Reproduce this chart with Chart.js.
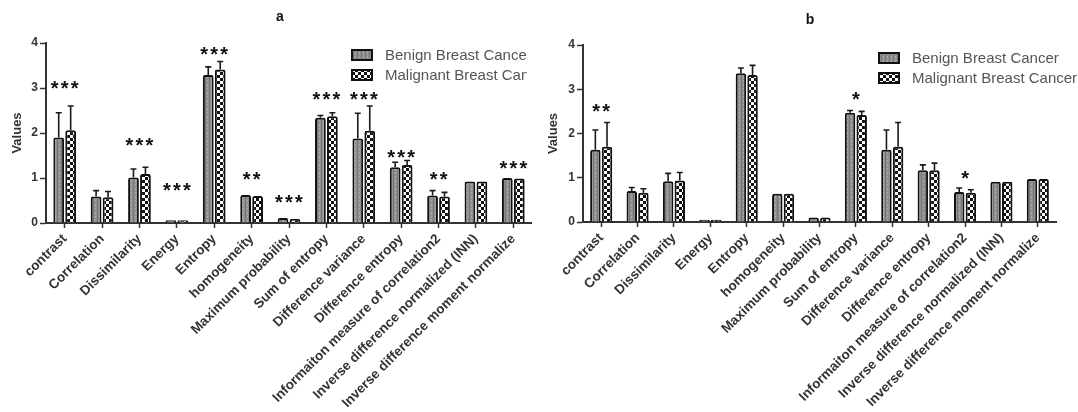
<!DOCTYPE html>
<html lang="en">
<head>
    <meta charset="UTF-8" />
    <title>Texture features - benign vs malignant</title>
    <script src="https://cdn.jsdelivr.net/npm/chart.js"></script>
    <style>
        body {
            margin: 0;
            background: #fff;
            width: 1078px;
            height: 412px;
            overflow: hidden;
            position: relative;
        }
        .panel {
            position: absolute;
            top: 0;
            height: 412px;
        }
        #panelA { left: 0; width: 532px; }
        #panelB { left: 540px; width: 538px; }
    </style>
</head>
<body>
    <div class="panel" id="panelA"><canvas id="chartA"></canvas></div>
    <div class="panel" id="panelB"><canvas id="chartB"></canvas></div>

    <script>
        // Data
        const categories = [
            'contrast', 'Correlation', 'Dissimilarity', 'Energy', 'Entropy',
            'homogeneity', 'Maximum probability', 'Sum of entropy',
            'Difference variance', 'Difference entropy',
            'Informaiton measure of correlation2',
            'Inverse difference normalized (INN)',
            'Inverse difference moment normalize'
        ];
        const seriesNames = ['Benign Breast Cancer', 'Malignant Breast Cancer'];
        const yTicks = [0, 1, 2, 3, 4];

        // panel a
        const benignA      = [1.90, 0.59, 1.01, 0.06, 3.29, 0.62, 0.11, 2.34, 1.88, 1.24, 0.61, 0.92, 1.00];
        const benignErrA   = [2.45, 0.72, 1.20, 0.07, 3.47, 0.64, 0.12, 2.39, 2.44, 1.35, 0.72, 0.93, 1.01];
        const malignantA    = [2.06, 0.57, 1.09, 0.06, 3.41, 0.60, 0.09, 2.37, 2.05, 1.29, 0.59, 0.92, 0.99];
        const malignantErrA = [2.60, 0.70, 1.24, 0.07, 3.59, 0.62, 0.10, 2.45, 2.60, 1.39, 0.68, 0.93, 1.00];
        const starsA  = ['***', '', '***', '***', '***', '**', '***', '***', '***', '***', '**', '', '***'];
        const starYA  = [3.12, 0, 1.84, 0.84, 3.86, 1.09, 0.57, 2.86, 2.86, 1.58, 1.09, 0, 1.34];

        // panel b
        const benignB      = [1.63, 0.70, 0.92, 0.05, 3.36, 0.64, 0.10, 2.47, 1.63, 1.17, 0.68, 0.91, 0.97];
        const benignErrB   = [2.08, 0.78, 1.10, 0.06, 3.48, 0.66, 0.11, 2.52, 2.08, 1.29, 0.77, 0.92, 0.98];
        const malignantB    = [1.70, 0.66, 0.94, 0.05, 3.32, 0.64, 0.10, 2.42, 1.70, 1.17, 0.66, 0.91, 0.97];
        const malignantErrB = [2.25, 0.75, 1.12, 0.06, 3.54, 0.66, 0.11, 2.50, 2.25, 1.33, 0.73, 0.92, 0.98];
        const starsB  = ['**', '', '', '', '', '', '', '*', '', '', '*', '', ''];
        const starYB  = [2.62, 0, 0, 0, 0, 0, 0, 2.89, 0, 0, 1.10, 0, 0];

        const FONT = "'Liberation Sans', Arial, sans-serif";

        // fill patterns: grey texture for benign, black/white checks for malignant
        function makeBenignPattern() {
            const c = document.createElement('canvas');
            c.width = 4; c.height = 4;
            const g = c.getContext('2d');
            g.fillStyle = '#8f8f8f';
            g.fillRect(0, 0, 4, 4);
            g.fillStyle = '#767676';
            g.fillRect(1, 0, 1, 4);
            g.fillStyle = '#a8a8a8';
            g.fillRect(3, 0, 1, 2);
            return g.createPattern(c, 'repeat');
        }
        function makeMalignantPattern() {
            const c = document.createElement('canvas');
            c.width = 6; c.height = 6;
            const g = c.getContext('2d');
            g.fillStyle = '#111';
            g.fillRect(0, 0, 6, 6);
            g.fillStyle = '#fff';
            g.fillRect(1, 0, 3, 3);
            g.fillRect(4, 3, 2, 3);
            g.fillRect(0, 3, 1, 3);
            return g.createPattern(c, 'repeat');
        }
        const benignFill = makeBenignPattern();
        const malignantFill = makeMalignantPattern();

        // error bars (upper only) drawn from the err arrays
        const errorBars = {
            id: 'errorBars',
            afterDatasetsDraw(chart, args, opts) {
                const ctx = chart.ctx;
                const y = chart.scales.y;
                ctx.save();
                ctx.strokeStyle = '#1a1a1a';
                ctx.lineWidth = 1.6;
                chart.data.datasets.forEach((ds, di) => {
                    const meta = chart.getDatasetMeta(di);
                    meta.data.forEach((bar, i) => {
                        const top = y.getPixelForValue(ds.data[i]);
                        const e = y.getPixelForValue(ds.errTop[i]);
                        if (top - e < 1.5) return;
                        ctx.beginPath();
                        ctx.moveTo(bar.x, top);
                        ctx.lineTo(bar.x, e);
                        ctx.moveTo(bar.x - 3, e);
                        ctx.lineTo(bar.x + 3, e);
                        ctx.stroke();
                    });
                });
                ctx.restore();
            }
        };

        // significance stars above each category
        const sigStars = {
            id: 'sigStars',
            afterDatasetsDraw(chart, args, opts) {
                const ctx = chart.ctx;
                const x = chart.scales.x;
                const y = chart.scales.y;
                ctx.save();
                ctx.fillStyle = '#111';
                ctx.font = 'bold 20px ' + FONT;
                ctx.textAlign = 'center';
                ctx.textBaseline = 'alphabetic';
                opts.stars.forEach((s, i) => {
                    if (!s) return;
                    const cx = x.getPixelForValue(i);
                    const cy = y.getPixelForValue(opts.starY[i]);
                    const step = 10;
                    const start = cx - (s.length - 1) * step / 2;
                    for (let k = 0; k < s.length; k++) {
                        ctx.fillText('*', start + k * step, cy + 12);
                    }
                });
                ctx.restore();
            }
        };

        // panel letter + legend
        const panelDecor = {
            id: 'panelDecor',
            afterDraw(chart, args, opts) {
                const ctx = chart.ctx;
                ctx.save();
                ctx.fillStyle = '#111';
                ctx.font = 'bold 14px ' + FONT;
                ctx.textAlign = 'center';
                ctx.textBaseline = 'middle';
                ctx.fillText(opts.letter, opts.letterX, opts.letterY);

                // legend gets cut at the panel edge like in the source figure
                ctx.beginPath();
                ctx.rect(0, 0, opts.clipX, chart.height);
                ctx.clip();

                const fills = [benignFill, malignantFill];
                ctx.font = '15px ' + FONT;
                ctx.textAlign = 'left';
                seriesNames.forEach((name, i) => {
                    const bx = opts.legendX;
                    const by = opts.legendY + i * 20;
                    ctx.fillStyle = fills[i];
                    ctx.fillRect(bx, by - 5, 20, 10);
                    ctx.strokeStyle = '#111';
                    ctx.lineWidth = 2;
                    ctx.strokeRect(bx, by - 5, 20, 10);
                    ctx.fillStyle = '#555';
                    ctx.fillText(name, bx + 33, by + 1);
                });
                ctx.restore();
            }
        };

        function buildChart(id, b, bErr, m, mErr, stars, starY, cfg) {
            return new Chart(document.getElementById(id), {
                type: 'bar',
                data: {
                    labels: categories,
                    datasets: [
                        {
                            label: seriesNames[0],
                            data: b,
                            errTop: bErr,
                            backgroundColor: benignFill,
                            borderColor: '#111',
                            borderWidth: 2,
                            borderRadius: 2,
                            categoryPercentage: 0.64,
                            barPercentage: 0.9
                        },
                        {
                            label: seriesNames[1],
                            data: m,
                            errTop: mErr,
                            backgroundColor: malignantFill,
                            borderColor: '#111',
                            borderWidth: 2,
                            borderRadius: 2,
                            categoryPercentage: 0.64,
                            barPercentage: 0.9
                        }
                    ]
                },
                options: {
                    responsive: true,
                    maintainAspectRatio: false,
                    animation: false,
                    layout: {
                        padding: { top: cfg.top, right: cfg.right, left: 0, bottom: 0 }
                    },
                    plugins: {
                        legend: { display: false },
                        tooltip: { enabled: false },
                        sigStars: { stars: stars, starY: starY },
                        panelDecor: cfg.decor
                    },
                    scales: {
                        x: {
                            offset: true,
                            afterFit(scale) { scale.height = cfg.xHeight; },
                            border: { color: '#333', width: 2 },
                            grid: {
                                offset: false,
                                drawOnChartArea: false,
                                tickLength: 5,
                                tickColor: '#333',
                                tickWidth: 1.5
                            },
                            ticks: {
                                autoSkip: false,
                                minRotation: 45,
                                maxRotation: 45,
                                padding: 3,
                                color: '#333',
                                font: { family: FONT, size: 13.5, weight: 'bold' }
                            }
                        },
                        y: {
                            min: 0,
                            max: 4,
                            afterFit(scale) { scale.width = cfg.yWidth; },
                            afterBuildTicks(scale) {
                                scale.ticks = yTicks.map(v => ({ value: v }));
                            },
                            border: { color: '#333', width: 2 },
                            grid: {
                                drawOnChartArea: false,
                                tickLength: 6,
                                tickColor: '#333',
                                tickWidth: 1.5
                            },
                            ticks: {
                                padding: 2,
                                color: '#333',
                                font: { family: FONT, size: 12, weight: 'bold' }
                            },
                            title: {
                                display: true,
                                text: 'Values',
                                color: '#333',
                                padding: { top: cfg.titlePad, bottom: 0 },
                                font: { family: FONT, size: 13, weight: 'bold' }
                            }
                        }
                    }
                },
                plugins: [errorBars, sigStars, panelDecor]
            });
        }

        buildChart('chartA', benignA, benignErrA, malignantA, malignantErrA, starsA, starYA, {
            top: 43, right: 0, xHeight: 189, yWidth: 46, titlePad: 10,
            decor: { letter: 'a', letterX: 280, letterY: 17, legendX: 352, legendY: 55, clipX: 527 }
        });

        buildChart('chartB', benignB, benignErrB, malignantB, malignantErrB, starsB, starYB, {
            top: 45, right: 22, xHeight: 190, yWidth: 43, titlePad: 6,
            decor: { letter: 'b', letterX: 270, letterY: 20, legendX: 339, legendY: 58, clipX: 538 }
        });
    </script>
</body>
</html>
